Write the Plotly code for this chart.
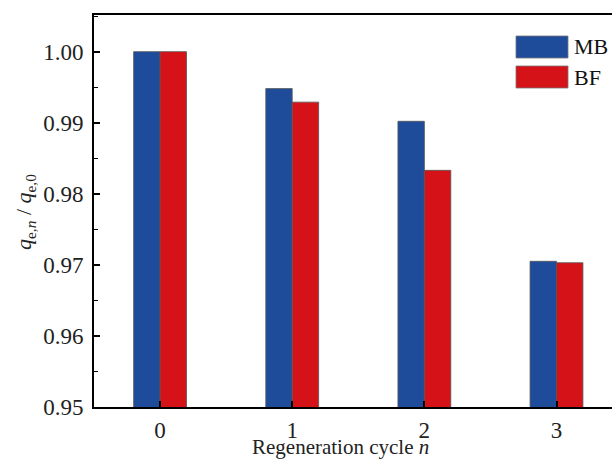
import plotly.graph_objects as go

cycles = ["0", "1", "2", "3"]
mb_values = [1.000, 0.9948, 0.9902, 0.9705]
bf_values = [1.000, 0.9929, 0.9833, 0.9703]
series_names = ["MB", "BF"]
colors = ["#1f4c9a", "#d61219"]
y_ticks = [0.95, 0.96, 0.97, 0.98, 0.99, 1.00]

FONT = "Liberation Serif"
W, H = 612, 460
L, T, B = 94, 15, 460 - 407

fig = go.Figure()
for name, vals, col in zip(series_names, [mb_values, bf_values], colors):
    fig.add_trace(go.Bar(
        x=[0, 1, 2, 3], y=vals, name=name, marker_color=col,
        marker_line=dict(color="#555555", width=0.8),
        showlegend=False,
    ))

fig.update_layout(
    width=W, height=H,
    paper_bgcolor="white", plot_bgcolor="white",
    margin=dict(l=L, r=0, t=T, b=B),
    barmode="group", bargap=0.6, bargroupgap=0,
    font=dict(family=FONT, size=23, color="#222222"),
)
fig.update_xaxes(
    range=[-0.5, 3.42], tickvals=[0, 1, 2, 3], ticktext=cycles,
    showline=True, linecolor="black", linewidth=1.6, mirror=True,
    ticks="inside", ticklen=6, tickwidth=1.5, tickcolor="black",
    showgrid=False, zeroline=False, ticklabelstandoff=2,
)
fig.update_yaxes(
    range=[0.95, 1.00516], tickvals=y_ticks, tickformat=".2f",
    showline=True, linecolor="black", linewidth=1.6,
    ticks="inside", ticklen=6, tickwidth=1.5, tickcolor="black",
    minor=dict(dtick=0.005, tick0=0.95, ticks="inside", ticklen=4, tickcolor="black", tickwidth=1.2),
    showgrid=False, zeroline=False, ticklabelstandoff=4,
)

def px_x(px):
    return (px - 94) / (612 - 94)

def px_y(py):
    return (407 - py) / (407 - 15)

# axis titles
fig.add_annotation(text="Regeneration cycle <i>n</i>", xref="paper", yref="paper",
                   x=px_x(340), y=px_y(447), xanchor="center", yanchor="middle",
                   showarrow=False, font=dict(family=FONT, size=21, color="#222222"))
fig.add_annotation(text="<i>q</i><sub>e,<i>n</i></sub> / <i>q</i><sub>e,0</sub>", xref="paper", yref="paper",
                   x=px_x(25), y=px_y(212), xanchor="center", yanchor="middle",
                   textangle=-90, showarrow=False, font=dict(family=FONT, size=22, color="#222222"))

# legend
for i, (name, col) in enumerate(zip(series_names, colors)):
    y0 = 36 + i * 30
    fig.add_shape(type="rect", xref="paper", yref="paper",
                  x0=px_x(516), x1=px_x(568), y0=px_y(y0 + 22), y1=px_y(y0),
                  fillcolor=col, line=dict(color="#777777", width=0.8))
    fig.add_annotation(text=name, xref="paper", yref="paper", x=px_x(572), y=px_y(y0 + 11),
                       xanchor="left", yanchor="middle", showarrow=False,
                       font=dict(family=FONT, size=22, color="#111111"))

fig.write_html("out.html", config={"displayModeBar": False},
               post_script="document.body.style.margin='0';document.body.style.overflow='hidden';")
